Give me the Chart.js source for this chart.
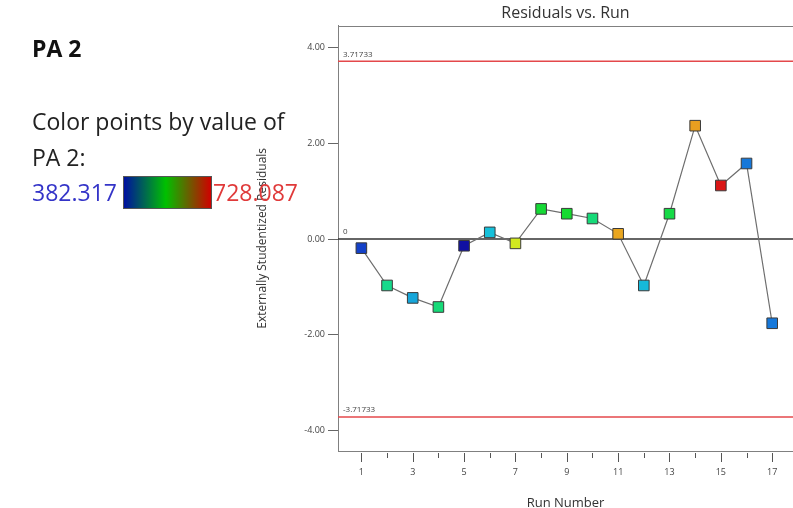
<!DOCTYPE html>
<html lang="en">
<head>
<meta charset="UTF-8">
<title>Residuals vs. Run</title>
<script src="https://cdn.jsdelivr.net/npm/chart.js"></script>
<style>
    body { margin: 0; background: #fff; width: 793px; height: 508px; overflow: hidden; position: relative; font-family: "Open Sans", sans-serif; }
    #holder { position: absolute; left: 0; top: 0; width: 793px; height: 508px; }
    .side { position: absolute; left: 32px; color: #222; white-space: nowrap; font-size: 23px; line-height: 30px; }
    #pa { top: 33px; font-weight: bold; color: #111; }
    #colorby { top: 106px; }
    #colorby2 { top: 142px; }
    #lo { top: 177px; color: #3434c8; }
    #hi { left: 213px; top: 177px; color: #e03a3a; }
    #bar { position: absolute; left: 123px; top: 176px; width: 87px; height: 31px; border: 1px solid #555;
           background: linear-gradient(to right, #0010a0, #00c000 48%, #d00000); }
</style>
</head>
<body>
<div id="holder"><canvas id="chart" width="793" height="508"></canvas></div>
<div class="side" id="pa">PA 2</div>
<div class="side" id="colorby">Color points by value of</div>
<div class="side" id="colorby2">PA 2:</div>
<div class="side" id="lo">382.317</div>
<div id="bar"></div>
<div class="side" id="hi">728.087</div>

<script>
    // dados
    const runs = [1, 2, 3, 4, 5, 6, 7, 8, 9, 10, 11, 12, 13, 14, 15, 16, 17];
    const residuals = [-0.19, -0.97, -1.23, -1.42, -0.14, 0.14, -0.09, 0.63, 0.53, 0.43, 0.11, -0.97, 0.53, 2.37, 1.12, 1.58, -1.76];
    // PA 2 estimado pela cor de cada ponto
    const pa2 = [404, 504, 445, 512, 382.317, 457, 631, 541, 544, 512, 671, 455, 534, 674, 728.087, 426, 426];
    const pa2Min = 382.317;
    const pa2Max = 728.087;
    const limits = [3.71733, 0, -3.71733];
    const limitLabels = ['3.71733', '0', '-3.71733'];
    const yTicks = [-4, -2, 0, 2, 4];
    const xLabels = [1, 3, 5, 7, 9, 11, 13, 15, 17];

    const fonte = '"Open Sans", sans-serif';

    function corPA(v) {
        var t = (v - pa2Min) / (pa2Max - pa2Min);
        var hue = 240 * (1 - t);
        var light = t < 0.1 ? 35 + t * 120 : (t > 0.65 && t < 0.95 ? 52 : 47);
        return 'hsl(' + hue.toFixed(0) + ', 82%, ' + light.toFixed(0) + '%)';
    }

    const moldura = {
        id: 'moldura',
        beforeDatasetsDraw(chart) {
            const ctx = chart.ctx;
            const a = chart.chartArea;
            const x = chart.scales.x;
            const y = chart.scales.y;
            ctx.save();
            // borda de cima
            ctx.strokeStyle = '#808080';
            ctx.lineWidth = 1;
            ctx.beginPath();
            ctx.moveTo(a.left, Math.round(a.top) + 0.5);
            ctx.lineTo(a.right, Math.round(a.top) + 0.5);
            ctx.stroke();

            // linhas de limite e zero
            ctx.font = '8px ' + fonte;
            ctx.textBaseline = 'bottom';
            ctx.textAlign = 'left';
            limits.forEach(function (v, i) {
                const py = y.getPixelForValue(v);
                ctx.strokeStyle = v == 0 ? '#333' : '#e4484b';
                ctx.lineWidth = 1.5;
                ctx.beginPath();
                ctx.moveTo(a.left, py);
                ctx.lineTo(a.right, py);
                ctx.stroke();
                ctx.fillStyle = '#444';
                ctx.fillText(limitLabels[i], a.left + 5, py - 3);
            });

            // tracinhos do eixo x
            ctx.strokeStyle = '#555';
            ctx.lineWidth = 1;
            runs.forEach(function (r) {
                const px = Math.round(x.getPixelForValue(r)) + 0.5;
                const len = xLabels.includes(r) ? 9 : 5;
                ctx.beginPath();
                ctx.moveTo(px, a.bottom + 2);
                ctx.lineTo(px, a.bottom + 2 + len);
                ctx.stroke();
            });
            ctx.restore();
        }
    };

    const data = {
        datasets: [{
            label: 'Residuals',
            data: runs.map(function (r, i) { return { x: r, y: residuals[i] }; }),
            showLine: true,
            borderColor: '#6e6e6e',
            borderWidth: 1.2,
            pointStyle: 'rect',
            pointRadius: 7.5,
            pointHoverRadius: 7.5,
            pointBackgroundColor: pa2.map(corPA),
            pointBorderColor: '#3a3a3a',
            pointBorderWidth: 1
        }]
    };

    const config = {
        type: 'scatter',
        data: data,
        plugins: [moldura],
        options: {
            responsive: false,
            animation: false,
            layout: { autoPadding: false, padding: { left: 252, right: 0, top: 0, bottom: 0 } },
            plugins: {
                legend: { display: false },
                tooltip: { enabled: false },
                title: {
                    display: true,
                    text: 'Residuals vs. Run',
                    fullSize: false,
                    color: '#333',
                    font: { family: fonte, size: 16, weight: 'normal' },
                    padding: { top: 3.5, bottom: 3 }
                }
            },
            scales: {
                x: {
                    type: 'linear',
                    min: 0.09,
                    max: 17.81,
                    afterBuildTicks: function (scale) { scale.ticks = xLabels.map(function (v) { return { value: v }; }); },
                    afterFit: function (scale) { scale.height = 57; },
                    grid: { display: true, drawOnChartArea: false, drawTicks: true, tickLength: 13, tickColor: 'transparent', color: 'transparent' },
                    border: { display: true, color: '#808080', width: 1 },
                    ticks: { color: '#444', font: { family: fonte, size: 9 }, padding: 3, maxRotation: 0 },
                    title: {
                        display: true,
                        text: 'Run Number',
                        color: '#333',
                        font: { family: fonte, size: 13 },
                        padding: { top: 0, bottom: -3 }
                    }
                },
                y: {
                    min: -4.43,
                    max: 4.46,
                    afterBuildTicks: function (scale) { scale.ticks = yTicks.map(function (v) { return { value: v }; }); },
                    afterFit: function (scale) { scale.width = 86; },
                    grid: { drawOnChartArea: false, drawTicks: true, tickLength: 10, color: '#666' },
                    border: { display: true, color: '#808080', width: 1 },
                    ticks: {
                        color: '#444',
                        font: { family: fonte, size: 9 },
                        padding: 3,
                        callback: function (v) { return Number(v).toFixed(2); }
                    },
                    title: {
                        display: true,
                        text: 'Externally Studentized Residuals',
                        color: '#333',
                        font: { family: fonte, size: 12 },
                        padding: { top: 3, bottom: 0 }
                    }
                }
            }
        }
    };

    const grafico = new Chart(document.getElementById('chart'), config);
</script>
</body>
</html>
